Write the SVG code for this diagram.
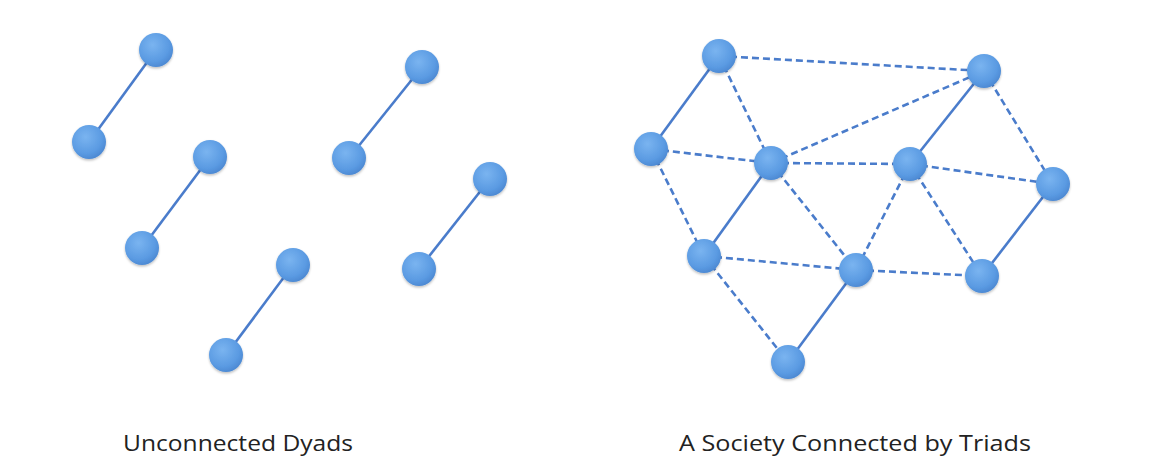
<svg xmlns="http://www.w3.org/2000/svg" width="1150" height="466" viewBox="0 0 1150 466">
<defs>
<radialGradient id="g" cx="0.4" cy="0.35" r="0.7">
<stop offset="0" stop-color="#7ab4f0"/>
<stop offset="0.7" stop-color="#5a9ae2"/>
<stop offset="1" stop-color="#4a86d0"/>
</radialGradient>
<filter id="sh" x="-30%" y="-30%" width="160%" height="160%">
<feDropShadow dx="0" dy="1.5" stdDeviation="1.2" flood-color="#000" flood-opacity="0.25"/>
</filter>
</defs>
<style>
.e{stroke:#4a7ccb;stroke-width:2.6;fill:none}
.d{stroke-dasharray:7 4}
.n{fill:url(#g);filter:url(#sh)}
.t{font-family:"Open Sans","Liberation Sans",sans-serif;font-size:21px;fill:#222}
</style>
<rect width="1150" height="466" fill="#ffffff"/>
<g id="connectors">
<line class="e" x1="156" y1="50" x2="89" y2="142"/>
<line class="e" x1="210" y1="157" x2="142" y2="248"/>
<line class="e" x1="422" y1="67" x2="349" y2="158"/>
<line class="e" x1="490" y1="179" x2="419" y2="269"/>
<line class="e" x1="293" y1="265" x2="226" y2="355"/>
<line class="e" x1="719" y1="56" x2="651" y2="149"/>
<line class="e d" x1="719" y1="56" x2="771" y2="163"/>
<line class="e d" x1="719" y1="56" x2="984" y2="71"/>
<line class="e d" x1="771" y1="163" x2="984" y2="71"/>
<line class="e d" x1="651" y1="149" x2="771" y2="163"/>
<line class="e d" x1="651" y1="149" x2="704" y2="256"/>
<line class="e" x1="771" y1="163" x2="704" y2="256"/>
<line class="e d" x1="771" y1="163" x2="910" y2="164"/>
<line class="e d" x1="771" y1="163" x2="856" y2="270"/>
<line class="e" x1="910" y1="164" x2="984" y2="71"/>
<line class="e d" x1="910" y1="164" x2="1053" y2="184"/>
<line class="e d" x1="984" y1="71" x2="1053" y2="184"/>
<line class="e d" x1="910" y1="164" x2="856" y2="270"/>
<line class="e d" x1="910" y1="164" x2="982" y2="276"/>
<line class="e" x1="1053" y1="184" x2="982" y2="276"/>
<line class="e d" x1="704" y1="256" x2="856" y2="270"/>
<line class="e d" x1="856" y1="270" x2="982" y2="276"/>
<line class="e d" x1="704" y1="256" x2="788" y2="362"/>
<line class="e" x1="856" y1="270" x2="788" y2="362"/>
</g>
<g id="n1"><circle class="n" cx="156" cy="50" r="17"/></g>
<g id="n2"><circle class="n" cx="89" cy="142" r="17"/></g>
<g id="n3"><circle class="n" cx="210" cy="157" r="17"/></g>
<g id="n4"><circle class="n" cx="142" cy="248" r="17"/></g>
<g id="n5"><circle class="n" cx="422" cy="67" r="17"/></g>
<g id="n6"><circle class="n" cx="349" cy="158" r="17"/></g>
<g id="n7"><circle class="n" cx="490" cy="179" r="17"/></g>
<g id="n8"><circle class="n" cx="419" cy="269" r="17"/></g>
<g id="n9"><circle class="n" cx="293" cy="265" r="17"/></g>
<g id="n10"><circle class="n" cx="226" cy="355" r="17"/></g>
<g id="tA"><circle class="n" cx="719" cy="56" r="17"/></g>
<g id="tB"><circle class="n" cx="984" cy="71" r="17"/></g>
<g id="tC"><circle class="n" cx="651" cy="149" r="17"/></g>
<g id="tD"><circle class="n" cx="771" cy="163" r="17"/></g>
<g id="tE"><circle class="n" cx="910" cy="164" r="17"/></g>
<g id="tF"><circle class="n" cx="1053" cy="184" r="17"/></g>
<g id="tG"><circle class="n" cx="704" cy="256" r="17"/></g>
<g id="tH"><circle class="n" cx="856" cy="270" r="17"/></g>
<g id="tI"><circle class="n" cx="982" cy="276" r="17"/></g>
<g id="tJ"><circle class="n" cx="788" cy="362" r="17"/></g>
<g id="labels">
<text class="t" x="123" y="451" textLength="230" lengthAdjust="spacingAndGlyphs">Unconnected Dyads</text>
<text class="t" x="679" y="451" textLength="352" lengthAdjust="spacingAndGlyphs">A Society Connected by Triads</text>
</g>
</svg>
